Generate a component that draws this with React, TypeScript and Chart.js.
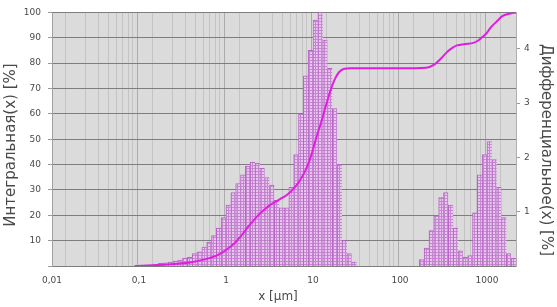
import React, { useEffect, useRef } from 'react';
import { Chart, registerables } from 'chart.js';

Chart.register(...registerables);

// Size classes: 18 per decade, class k spans 10^(k/18) .. 10^((k+1)/18) µm
const BINS_PER_DECADE = 18;
const FIRST_BIN = -19;

// Differential distribution [%] per size class, classes k = -19 .. 59
const diffValues: (number | null)[] = [
  0.01, 0.01, 0.02, 0.02, 0.03, 0.05, 0.06, 0.07, 0.09, 0.11,
  0.14, 0.16, 0.23, 0.26, 0.35, 0.44, 0.56, 0.70, 0.89, 1.12,
  1.35, 1.52, 1.68, 1.84, 1.91, 1.89, 1.80, 1.63, 1.49, 1.21,
  1.07, 1.07, 1.45, 2.05, 2.80, 3.50, 3.97, 4.53, 4.70, 4.16,
  3.64, 2.90, 1.87, 0.47, 0.23, 0.07,
  null, null, null, null, null, null, null, null, null, null, null, null, null,
  0.12, 0.33, 0.65, 0.93, 1.26, 1.35, 1.12, 0.70, 0.28, 0.16,
  0.19, 0.98, 1.68, 2.05, 2.29, 1.96, 1.45, 0.89, 0.23, 0.14,
];

// Cumulative (integral) distribution
const cumSizes = [
  0.09, 0.15, 0.25, 0.4, 0.6, 0.8, 1.0, 1.25, 1.5, 1.8, 2.2, 2.6, 3.2, 4.0, 5.0,
  6.0, 7.0, 8.0, 9.0, 10, 11, 12.5, 14, 16, 18, 20, 23, 27, 100, 200, 250, 300,
  350, 400, 450, 560, 700, 800, 900, 1000, 1100, 1300, 1500, 1800, 2154,
];
const cumValues = [
  0, 0.3, 0.8, 1.5, 2.8, 4.3, 6.3, 9, 12, 15.5, 19, 21.5, 24, 26, 28,
  30.5, 33.5, 37, 41, 46, 51, 57, 63, 69.5, 74, 76.5, 77.8, 78, 78, 78.2, 79.5, 82,
  84.5, 86, 87, 87.5, 88, 89, 90.5, 92, 94, 96.5, 98.5, 99.5, 100,
];

const xTickValues = [0.01, 0.1, 1, 10, 100, 1000];
const xTickLabels = ['0,01', '0,1', '1', '10', '100', '1000'];
const rightTickValues = [1, 2, 3, 4];

const X_MIN = 0.01;
const X_MAX = 2154;
const Y_LEFT_MAX = 100;
const Y_RIGHT_MAX = 4.67;

const LEFT_TITLE = 'Интегральная(x) [%]';
const RIGHT_TITLE = 'Дифференциальное(x) [%]';
const X_TITLE = 'x [µm]';

const isMajor = (v: number) => {
  const l = Math.log10(v);
  return Math.abs(l - Math.round(l)) < 1e-6;
};

function makePattern(): CanvasPattern | string {
  const pc = document.createElement('canvas');
  pc.width = 3;
  pc.height = 3;
  const c = pc.getContext('2d');
  if (!c) return '#d9aee2';
  c.fillStyle = '#e8c6ef';
  c.fillRect(0, 0, 3, 3);
  c.fillStyle = '#c487d0';
  c.fillRect(0, 0, 3, 1);
  c.fillRect(0, 0, 1, 3);
  const p = c.createPattern(pc, 'repeat');
  return p || '#d9aee2';
}

export default function App() {
  const ref = useRef<HTMLCanvasElement>(null);

  useEffect(() => {
    const canvas = ref.current;
    if (!canvas) return;
    const pattern = makePattern();

    const barData = diffValues.map((v, i) => ({
      x: Math.pow(10, (FIRST_BIN + i + 0.5) / BINS_PER_DECADE),
      y: v,
    }));
    const lineData = cumSizes.map((s, i) => ({ x: s, y: cumValues[i] }));

    const bgPlugin = {
      id: 'bg',
      beforeDraw(chart: any) {
        const { ctx, chartArea, width, height } = chart;
        ctx.save();
        ctx.fillStyle = '#ffffff';
        ctx.fillRect(0, 0, width, height);
        ctx.fillStyle = '#dbdbdb';
        ctx.fillRect(chartArea.left, chartArea.top, chartArea.right - chartArea.left, chartArea.bottom - chartArea.top);
        ctx.restore();
      },
      afterDraw(chart: any) {
        const { ctx, chartArea } = chart;
        ctx.save();
        ctx.fillStyle = '#4a4a4a';
        ctx.textAlign = 'center';
        ctx.textBaseline = 'middle';
        ctx.font = '15px "DejaVu Sans"';
        ctx.translate(11, 145);
        ctx.rotate(-Math.PI / 2);
        ctx.fillText(LEFT_TITLE, 0, 0);
        ctx.restore();

        ctx.save();
        ctx.fillStyle = '#4a4a4a';
        ctx.textAlign = 'center';
        ctx.textBaseline = 'middle';
        ctx.font = '15px "DejaVu Sans"';
        ctx.translate(546, 150);
        ctx.rotate(Math.PI / 2);
        ctx.fillText(RIGHT_TITLE, 0, 0);
        ctx.restore();

        ctx.save();
        ctx.fillStyle = '#4a4a4a';
        ctx.textAlign = 'center';
        ctx.textBaseline = 'middle';
        ctx.font = '12px "DejaVu Sans"';
        ctx.fillText(X_TITLE, (chartArea.left + chartArea.right) / 2 - 6, 297);
        ctx.restore();
      },
    };

    const tickFont = { family: '"DejaVu Sans"', size: 9 };

    const chart = new Chart(canvas, {
      type: 'bar',
      data: {
        datasets: [
          {
            type: 'line',
            data: lineData,
            xAxisID: 'x',
            yAxisID: 'y',
            borderColor: '#e01ee0',
            borderWidth: 2,
            pointRadius: 0,
            cubicInterpolationMode: 'monotone',
            fill: false,
            order: 0,
          } as any,
          {
            type: 'bar',
            data: barData,
            xAxisID: 'x',
            yAxisID: 'y1',
            backgroundColor: pattern as any,
            borderColor: '#b864c6',
            borderWidth: { top: 1, left: 1, right: 0, bottom: 0 },
            borderSkipped: false,
            barThickness: 'flex',
            categoryPercentage: 1,
            barPercentage: 1,
            order: 1,
          } as any,
        ],
      },
      options: {
        responsive: false,
        animation: false,
        layout: { padding: { top: 10, left: 0, right: 0, bottom: 0 } },
        plugins: {
          legend: { display: false },
          tooltip: { enabled: false },
          title: { display: false },
        },
        scales: {
          x: {
            type: 'logarithmic',
            min: X_MIN,
            max: X_MAX,
            afterBuildTicks(scale: any) {
              const ticks: any[] = [];
              for (let e = -2; e <= 3; e++) {
                for (let d = 1; d <= 9; d++) {
                  const v = d * Math.pow(10, e);
                  if (v >= X_MIN * 0.999 && v <= X_MAX) ticks.push({ value: v });
                }
              }
              scale.ticks = ticks;
            },
            afterFit(scale: any) {
              scale.height = 41;
            },
            ticks: {
              autoSkip: false,
              maxRotation: 0,
              minRotation: 0,
              padding: 9,
              color: '#4a4a4a',
              font: tickFont,
              callback(value: any) {
                const v = Number(value);
                const idx = xTickValues.findIndex((t) => Math.abs(Math.log10(t) - Math.log10(v)) < 1e-6);
                return idx >= 0 ? xTickLabels[idx] : '';
              },
            },
            grid: {
              drawTicks: false,
              color: (ctx: any) => (ctx.tick && isMajor(ctx.tick.value) ? '#ababab' : '#c4c4c4'),
              lineWidth: 1,
            },
            border: { display: false },
          },
          y: {
            type: 'linear',
            position: 'left',
            min: 0,
            max: Y_LEFT_MAX,
            afterFit(scale: any) {
              scale.width = 52;
            },
            ticks: {
              stepSize: 10,
              padding: 7,
              color: '#4a4a4a',
              font: tickFont,
              callback: (v: any) => (Number(v) === 0 ? '' : String(v)),
            },
            grid: {
              color: '#7d7d7d',
              tickLength: 4,
              tickColor: '#9a9a9a',
              lineWidth: 1,
            },
            border: { display: true, color: '#a0a0a0' },
          },
          y1: {
            type: 'linear',
            position: 'right',
            min: 0,
            max: Y_RIGHT_MAX,
            afterBuildTicks(scale: any) {
              scale.ticks = rightTickValues.map((v) => ({ value: v }));
            },
            afterFit(scale: any) {
              scale.width = 41;
            },
            ticks: {
              padding: 4,
              color: '#4a4a4a',
              font: tickFont,
              callback: (v: any) => String(v),
            },
            grid: {
              drawOnChartArea: false,
              tickLength: 4,
              tickColor: '#9a9a9a',
            },
            border: { display: true, color: '#b0b0b0' },
          },
        },
      } as any,
      plugins: [bgPlugin],
    });

    return () => chart.destroy();
  }, []);

  return (
    <div style={{ position: 'absolute', left: 0, top: 0, width: 557, height: 307, background: '#fff' }}>
      <canvas ref={ref} width={557} height={307} style={{ display: 'block', width: 557, height: 307 }} />
    </div>
  );
}
